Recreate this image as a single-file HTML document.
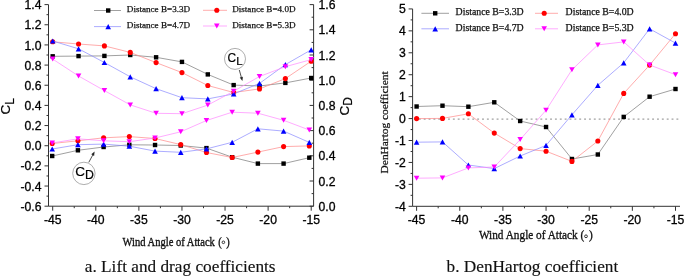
<!DOCTYPE html>
<html><head><meta charset="utf-8"><style>
html,body{margin:0;padding:0;background:#fff;}
body{width:685px;height:276px;overflow:hidden;position:relative;}
svg{position:absolute;left:0;top:0;will-change:transform;}
.sans{font-family:"Liberation Sans",sans-serif;font-size:12.2px;fill:#000;stroke:#000;stroke-width:0.3px;}
.serif{font-family:"Liberation Serif",serif;}
.wl{fill:#111;stroke:#111;stroke-width:0.3px;}
.sansT{font-family:"Liberation Sans",sans-serif;fill:#000;stroke:#000;stroke-width:0.2px;}
</style></head><body>
<svg width="685" height="276" viewBox="0 0 685 276">
<path d="M48.5 4.6V206.2H313.6V4.5" fill="none" stroke="#333" stroke-width="1"/>
<path d="M44.5 206.2H48.5 M46.5 196.12H48.5 M44.5 186.04H48.5 M46.5 175.96H48.5 M44.5 165.88H48.5 M46.5 155.8H48.5 M44.5 145.72H48.5 M46.5 135.64H48.5 M44.5 125.56H48.5 M46.5 115.48H48.5 M44.5 105.4H48.5 M46.5 95.32H48.5 M44.5 85.24H48.5 M46.5 75.16H48.5 M44.5 65.08H48.5 M46.5 55H48.5 M44.5 44.92H48.5 M46.5 34.84H48.5 M44.5 24.76H48.5 M46.5 14.68H48.5 M44.5 4.6H48.5 M309.6 206.2H313.6 M311.6 193.6H313.6 M309.6 181H313.6 M311.6 168.4H313.6 M309.6 155.8H313.6 M311.6 143.2H313.6 M309.6 130.61H313.6 M311.6 118.01H313.6 M309.6 105.41H313.6 M311.6 92.81H313.6 M309.6 80.21H313.6 M311.6 67.61H313.6 M309.6 55.01H313.6 M311.6 42.41H313.6 M309.6 29.81H313.6 M311.6 17.21H313.6 M309.6 4.62H313.6 M52.7 206.2V210.7 M74.24 206.2V208.2 M95.79 206.2V210.7 M117.33 206.2V208.2 M138.87 206.2V210.7 M160.41 206.2V208.2 M181.96 206.2V210.7 M203.5 206.2V208.2 M225.04 206.2V210.7 M246.58 206.2V208.2 M268.12 206.2V210.7 M289.67 206.2V208.2 M311.21 206.2V210.7" fill="none" stroke="#333" stroke-width="1"/>
<g class="sans"><text x="41.5" y="210.8" text-anchor="end">-0.6</text><text x="41.5" y="190.64" text-anchor="end">-0.4</text><text x="41.5" y="170.48" text-anchor="end">-0.2</text><text x="41.5" y="150.32" text-anchor="end">0.0</text><text x="41.5" y="130.16" text-anchor="end">0.2</text><text x="41.5" y="110" text-anchor="end">0.4</text><text x="41.5" y="89.84" text-anchor="end">0.6</text><text x="41.5" y="69.68" text-anchor="end">0.8</text><text x="41.5" y="49.52" text-anchor="end">1.0</text><text x="41.5" y="29.36" text-anchor="end">1.2</text><text x="41.5" y="9.2" text-anchor="end">1.4</text><text x="318.5" y="210.8">0.0</text><text x="318.5" y="185.6">0.2</text><text x="318.5" y="160.4">0.4</text><text x="318.5" y="135.21">0.6</text><text x="318.5" y="110.01">0.8</text><text x="318.5" y="84.81">1.0</text><text x="318.5" y="59.61">1.2</text><text x="318.5" y="34.41">1.4</text><text x="318.5" y="9.22">1.6</text><text x="52.7" y="223.6" text-anchor="middle">-45</text><text x="95.79" y="223.6" text-anchor="middle">-40</text><text x="138.87" y="223.6" text-anchor="middle">-35</text><text x="181.96" y="223.6" text-anchor="middle">-30</text><text x="225.04" y="223.6" text-anchor="middle">-25</text><text x="268.12" y="223.6" text-anchor="middle">-20</text><text x="311.21" y="223.6" text-anchor="middle">-15</text></g>
<polyline points="52.7,56.3 78.55,56.1 104.4,55.9 130.25,55 156.1,57.3 181.96,61.9 207.81,74.4 233.66,85.1 259.51,86 285.36,82.9 311.21,78" fill="none" stroke="#777" stroke-width="0.7"/><rect x="50.5" y="54.1" width="4.4" height="4.4" fill="#000"/><rect x="76.35" y="53.9" width="4.4" height="4.4" fill="#000"/><rect x="102.2" y="53.7" width="4.4" height="4.4" fill="#000"/><rect x="128.05" y="52.8" width="4.4" height="4.4" fill="#000"/><rect x="153.9" y="55.1" width="4.4" height="4.4" fill="#000"/><rect x="179.76" y="59.7" width="4.4" height="4.4" fill="#000"/><rect x="205.61" y="72.2" width="4.4" height="4.4" fill="#000"/><rect x="231.46" y="82.9" width="4.4" height="4.4" fill="#000"/><rect x="257.31" y="83.8" width="4.4" height="4.4" fill="#000"/><rect x="283.16" y="80.7" width="4.4" height="4.4" fill="#000"/><rect x="309.01" y="75.8" width="4.4" height="4.4" fill="#000"/>
<polyline points="52.7,41.8 78.55,44 104.4,45.9 130.25,52.4 156.1,62.6 181.96,72.6 207.81,85.5 233.66,92.5 259.51,88.9 285.36,78.6 311.21,61.2" fill="none" stroke="#f88" stroke-width="0.7"/><circle cx="52.7" cy="41.8" r="2.55" fill="#f00"/><circle cx="78.55" cy="44" r="2.55" fill="#f00"/><circle cx="104.4" cy="45.9" r="2.55" fill="#f00"/><circle cx="130.25" cy="52.4" r="2.55" fill="#f00"/><circle cx="156.1" cy="62.6" r="2.55" fill="#f00"/><circle cx="181.96" cy="72.6" r="2.55" fill="#f00"/><circle cx="207.81" cy="85.5" r="2.55" fill="#f00"/><circle cx="233.66" cy="92.5" r="2.55" fill="#f00"/><circle cx="259.51" cy="88.9" r="2.55" fill="#f00"/><circle cx="285.36" cy="78.6" r="2.55" fill="#f00"/><circle cx="311.21" cy="61.2" r="2.55" fill="#f00"/>
<polyline points="52.7,41 78.55,48.8 104.4,62.5 130.25,76.8 156.1,88.7 181.96,97.7 207.81,98.9 233.66,93.9 259.51,83.4 285.36,64.6 311.21,49.8" fill="none" stroke="#88f" stroke-width="0.7"/><path d="M52.7 38.4L55.5 43.6L49.9 43.6Z" fill="#00f"/><path d="M78.55 46.2L81.35 51.4L75.75 51.4Z" fill="#00f"/><path d="M104.4 59.9L107.2 65.1L101.6 65.1Z" fill="#00f"/><path d="M130.25 74.2L133.05 79.4L127.45 79.4Z" fill="#00f"/><path d="M156.1 86.1L158.9 91.3L153.3 91.3Z" fill="#00f"/><path d="M181.96 95.1L184.76 100.3L179.16 100.3Z" fill="#00f"/><path d="M207.81 96.3L210.61 101.5L205.01 101.5Z" fill="#00f"/><path d="M233.66 91.3L236.46 96.5L230.86 96.5Z" fill="#00f"/><path d="M259.51 80.8L262.31 86L256.71 86Z" fill="#00f"/><path d="M285.36 62L288.16 67.2L282.56 67.2Z" fill="#00f"/><path d="M311.21 47.2L314.01 52.4L308.41 52.4Z" fill="#00f"/>
<polyline points="52.7,59.1 78.55,76 104.4,90.6 130.25,104.9 156.1,113.3 181.96,113.7 207.81,105.1 233.66,91.2 259.51,76.5 285.36,66.7 311.21,59.6" fill="none" stroke="#f8f" stroke-width="0.7"/><path d="M49.9 56.6L55.5 56.6L52.7 61.6Z" fill="#f0f"/><path d="M75.75 73.5L81.35 73.5L78.55 78.5Z" fill="#f0f"/><path d="M101.6 88.1L107.2 88.1L104.4 93.1Z" fill="#f0f"/><path d="M127.45 102.4L133.05 102.4L130.25 107.4Z" fill="#f0f"/><path d="M153.3 110.8L158.9 110.8L156.1 115.8Z" fill="#f0f"/><path d="M179.16 111.2L184.76 111.2L181.96 116.2Z" fill="#f0f"/><path d="M205.01 102.6L210.61 102.6L207.81 107.6Z" fill="#f0f"/><path d="M230.86 88.7L236.46 88.7L233.66 93.7Z" fill="#f0f"/><path d="M256.71 74L262.31 74L259.51 79Z" fill="#f0f"/><path d="M282.56 64.2L288.16 64.2L285.36 69.2Z" fill="#f0f"/><path d="M308.41 57.1L314.01 57.1L311.21 62.1Z" fill="#f0f"/>
<polyline points="52.2,156 77.91,150.3 103.62,147 129.33,144.8 155.04,145 180.75,145.5 206.46,148.1 232.17,157.2 257.88,163.6 283.59,163.6 309.3,157.7" fill="none" stroke="#777" stroke-width="0.7"/><rect x="50" y="153.8" width="4.4" height="4.4" fill="#000"/><rect x="75.71" y="148.1" width="4.4" height="4.4" fill="#000"/><rect x="101.42" y="144.8" width="4.4" height="4.4" fill="#000"/><rect x="127.13" y="142.6" width="4.4" height="4.4" fill="#000"/><rect x="152.84" y="142.8" width="4.4" height="4.4" fill="#000"/><rect x="178.55" y="143.3" width="4.4" height="4.4" fill="#000"/><rect x="204.26" y="145.9" width="4.4" height="4.4" fill="#000"/><rect x="229.97" y="155" width="4.4" height="4.4" fill="#000"/><rect x="255.68" y="161.4" width="4.4" height="4.4" fill="#000"/><rect x="281.39" y="161.4" width="4.4" height="4.4" fill="#000"/><rect x="307.1" y="155.5" width="4.4" height="4.4" fill="#000"/>
<polyline points="52.2,143.5 77.91,140.8 103.62,137.8 129.33,136.6 155.04,138.5 180.75,144.6 206.46,152.5 232.17,157.5 257.88,152.1 283.59,146.6 309.3,145.9" fill="none" stroke="#f88" stroke-width="0.7"/><circle cx="52.2" cy="143.5" r="2.55" fill="#f00"/><circle cx="77.91" cy="140.8" r="2.55" fill="#f00"/><circle cx="103.62" cy="137.8" r="2.55" fill="#f00"/><circle cx="129.33" cy="136.6" r="2.55" fill="#f00"/><circle cx="155.04" cy="138.5" r="2.55" fill="#f00"/><circle cx="180.75" cy="144.6" r="2.55" fill="#f00"/><circle cx="206.46" cy="152.5" r="2.55" fill="#f00"/><circle cx="232.17" cy="157.5" r="2.55" fill="#f00"/><circle cx="257.88" cy="152.1" r="2.55" fill="#f00"/><circle cx="283.59" cy="146.6" r="2.55" fill="#f00"/><circle cx="309.3" cy="145.9" r="2.55" fill="#f00"/>
<polyline points="52.2,149 77.91,144.7 103.62,144.1 129.33,146.2 155.04,151.1 180.75,152.3 206.46,148.9 232.17,142.3 257.88,128.8 283.59,131.1 309.3,142.4" fill="none" stroke="#88f" stroke-width="0.7"/><path d="M52.2 146.4L55 151.6L49.4 151.6Z" fill="#00f"/><path d="M77.91 142.1L80.71 147.3L75.11 147.3Z" fill="#00f"/><path d="M103.62 141.5L106.42 146.7L100.82 146.7Z" fill="#00f"/><path d="M129.33 143.6L132.13 148.8L126.53 148.8Z" fill="#00f"/><path d="M155.04 148.5L157.84 153.7L152.24 153.7Z" fill="#00f"/><path d="M180.75 149.7L183.55 154.9L177.95 154.9Z" fill="#00f"/><path d="M206.46 146.3L209.26 151.5L203.66 151.5Z" fill="#00f"/><path d="M232.17 139.7L234.97 144.9L229.37 144.9Z" fill="#00f"/><path d="M257.88 126.2L260.68 131.4L255.08 131.4Z" fill="#00f"/><path d="M283.59 128.5L286.39 133.7L280.79 133.7Z" fill="#00f"/><path d="M309.3 139.8L312.1 145L306.5 145Z" fill="#00f"/>
<polyline points="52.2,143 77.91,138.8 103.62,140.8 129.33,141.7 155.04,138 180.75,131.8 206.46,120.5 232.17,112.2 257.88,113.2 283.59,120.3 309.3,130" fill="none" stroke="#f8f" stroke-width="0.7"/><path d="M49.4 140.5L55 140.5L52.2 145.5Z" fill="#f0f"/><path d="M75.11 136.3L80.71 136.3L77.91 141.3Z" fill="#f0f"/><path d="M100.82 138.3L106.42 138.3L103.62 143.3Z" fill="#f0f"/><path d="M126.53 139.2L132.13 139.2L129.33 144.2Z" fill="#f0f"/><path d="M152.24 135.5L157.84 135.5L155.04 140.5Z" fill="#f0f"/><path d="M177.95 129.3L183.55 129.3L180.75 134.3Z" fill="#f0f"/><path d="M203.66 118L209.26 118L206.46 123Z" fill="#f0f"/><path d="M229.37 109.7L234.97 109.7L232.17 114.7Z" fill="#f0f"/><path d="M255.08 110.7L260.68 110.7L257.88 115.7Z" fill="#f0f"/><path d="M280.79 117.8L286.39 117.8L283.59 122.8Z" fill="#f0f"/><path d="M306.5 127.5L312.1 127.5L309.3 132.5Z" fill="#f0f"/>
<path d="M412.6 8.9V206.3H680" fill="none" stroke="#333" stroke-width="1"/>
<path d="M408.6 206.3H412.6 M410.6 195.34H412.6 M408.6 184.37H412.6 M410.6 173.41H412.6 M408.6 162.44H412.6 M410.6 151.48H412.6 M408.6 140.51H412.6 M410.6 129.55H412.6 M408.6 118.58H412.6 M410.6 107.62H412.6 M408.6 96.65H412.6 M410.6 85.69H412.6 M408.6 74.72H412.6 M410.6 63.76H412.6 M408.6 52.79H412.6 M410.6 41.83H412.6 M408.6 30.86H412.6 M410.6 19.9H412.6 M408.6 8.93H412.6 M416.6 206.3V210.8 M438.18 206.3V208.3 M459.75 206.3V210.8 M481.33 206.3V208.3 M502.9 206.3V210.8 M524.48 206.3V208.3 M546.05 206.3V210.8 M567.62 206.3V208.3 M589.2 206.3V210.8 M610.78 206.3V208.3 M632.35 206.3V210.8 M653.93 206.3V208.3 M675.5 206.3V210.8" fill="none" stroke="#333" stroke-width="1"/>
<g class="sans"><text x="405.8" y="210.5" text-anchor="end">-4</text><text x="405.8" y="188.57" text-anchor="end">-3</text><text x="405.8" y="166.64" text-anchor="end">-2</text><text x="405.8" y="144.71" text-anchor="end">-1</text><text x="405.8" y="122.78" text-anchor="end">0</text><text x="405.8" y="100.85" text-anchor="end">1</text><text x="405.8" y="78.92" text-anchor="end">2</text><text x="405.8" y="56.99" text-anchor="end">3</text><text x="405.8" y="35.06" text-anchor="end">4</text><text x="405.8" y="13.13" text-anchor="end">5</text><text x="416.6" y="223.6" text-anchor="middle">-45</text><text x="459.75" y="223.6" text-anchor="middle">-40</text><text x="502.9" y="223.6" text-anchor="middle">-35</text><text x="546.05" y="223.6" text-anchor="middle">-30</text><text x="589.2" y="223.6" text-anchor="middle">-25</text><text x="632.35" y="223.6" text-anchor="middle">-20</text><text x="675.5" y="223.6" text-anchor="middle">-15</text></g>
<path d="M414.0 119.1H680" stroke="#888" stroke-width="1" stroke-dasharray="1.9 2.96"/>
<polyline points="416.6,106.5 442.49,105.7 468.38,106.7 494.27,102.3 520.16,121 546.05,127 571.94,159 597.83,154.5 623.72,116.9 649.61,96.7 675.5,89" fill="none" stroke="#777" stroke-width="0.7"/><rect x="414.4" y="104.3" width="4.4" height="4.4" fill="#000"/><rect x="440.29" y="103.5" width="4.4" height="4.4" fill="#000"/><rect x="466.18" y="104.5" width="4.4" height="4.4" fill="#000"/><rect x="492.07" y="100.1" width="4.4" height="4.4" fill="#000"/><rect x="517.96" y="118.8" width="4.4" height="4.4" fill="#000"/><rect x="543.85" y="124.8" width="4.4" height="4.4" fill="#000"/><rect x="569.74" y="156.8" width="4.4" height="4.4" fill="#000"/><rect x="595.63" y="152.3" width="4.4" height="4.4" fill="#000"/><rect x="621.52" y="114.7" width="4.4" height="4.4" fill="#000"/><rect x="647.41" y="94.5" width="4.4" height="4.4" fill="#000"/><rect x="673.3" y="86.8" width="4.4" height="4.4" fill="#000"/>
<polyline points="416.6,118.6 442.49,118.4 468.38,113.8 494.27,133.1 520.16,148.6 546.05,151.2 571.94,161.4 597.83,141 623.72,93.4 649.61,65.1 675.5,33.7" fill="none" stroke="#f88" stroke-width="0.7"/><circle cx="416.6" cy="118.6" r="2.55" fill="#f00"/><circle cx="442.49" cy="118.4" r="2.55" fill="#f00"/><circle cx="468.38" cy="113.8" r="2.55" fill="#f00"/><circle cx="494.27" cy="133.1" r="2.55" fill="#f00"/><circle cx="520.16" cy="148.6" r="2.55" fill="#f00"/><circle cx="546.05" cy="151.2" r="2.55" fill="#f00"/><circle cx="571.94" cy="161.4" r="2.55" fill="#f00"/><circle cx="597.83" cy="141" r="2.55" fill="#f00"/><circle cx="623.72" cy="93.4" r="2.55" fill="#f00"/><circle cx="649.61" cy="65.1" r="2.55" fill="#f00"/><circle cx="675.5" cy="33.7" r="2.55" fill="#f00"/>
<polyline points="416.6,142.2 442.49,141.9 468.38,165 494.27,168.6 520.16,156 546.05,145.4 571.94,114.8 597.83,85.3 623.72,62.8 649.61,28.8 675.5,43.1" fill="none" stroke="#88f" stroke-width="0.7"/><path d="M416.6 139.6L419.4 144.8L413.8 144.8Z" fill="#00f"/><path d="M442.49 139.3L445.29 144.5L439.69 144.5Z" fill="#00f"/><path d="M468.38 162.4L471.18 167.6L465.58 167.6Z" fill="#00f"/><path d="M494.27 166L497.07 171.2L491.47 171.2Z" fill="#00f"/><path d="M520.16 153.4L522.96 158.6L517.36 158.6Z" fill="#00f"/><path d="M546.05 142.8L548.85 148L543.25 148Z" fill="#00f"/><path d="M571.94 112.2L574.74 117.4L569.14 117.4Z" fill="#00f"/><path d="M597.83 82.7L600.63 87.9L595.03 87.9Z" fill="#00f"/><path d="M623.72 60.2L626.52 65.4L620.92 65.4Z" fill="#00f"/><path d="M649.61 26.2L652.41 31.4L646.81 31.4Z" fill="#00f"/><path d="M675.5 40.5L678.3 45.7L672.7 45.7Z" fill="#00f"/>
<polyline points="416.6,178.2 442.49,177.9 468.38,167.9 494.27,167 520.16,139.6 546.05,110.2 571.94,69.8 597.83,44.9 623.72,41.9 649.61,65 675.5,74.7" fill="none" stroke="#f8f" stroke-width="0.7"/><path d="M413.8 175.7L419.4 175.7L416.6 180.7Z" fill="#f0f"/><path d="M439.69 175.4L445.29 175.4L442.49 180.4Z" fill="#f0f"/><path d="M465.58 165.4L471.18 165.4L468.38 170.4Z" fill="#f0f"/><path d="M491.47 164.5L497.07 164.5L494.27 169.5Z" fill="#f0f"/><path d="M517.36 137.1L522.96 137.1L520.16 142.1Z" fill="#f0f"/><path d="M543.25 107.7L548.85 107.7L546.05 112.7Z" fill="#f0f"/><path d="M569.14 67.3L574.74 67.3L571.94 72.3Z" fill="#f0f"/><path d="M595.03 42.4L600.63 42.4L597.83 47.4Z" fill="#f0f"/><path d="M620.92 39.4L626.52 39.4L623.72 44.4Z" fill="#f0f"/><path d="M646.81 62.5L652.41 62.5L649.61 67.5Z" fill="#f0f"/><path d="M672.7 72.2L678.3 72.2L675.5 77.2Z" fill="#f0f"/>
<path d="M94 10.5H121" stroke="#777" stroke-width="0.7"/><rect x="106" y="8.3" width="4.4" height="4.4" fill="#000"/><text x="126.8" y="12.3" class="serif" style="font-size:9.12px;fill:#111;stroke:#111;stroke-width:0.25px">Distance B=3.3D</text><path d="M94 26.6H121" stroke="#88f" stroke-width="0.7"/><path d="M108.2 24L111 29.2L105.4 29.2Z" fill="#00f"/><text x="126.8" y="27.9" class="serif" style="font-size:9.12px;fill:#111;stroke:#111;stroke-width:0.25px">Distance B=4.7D</text>
<path d="M203 10.3H227" stroke="#f88" stroke-width="0.7"/><circle cx="216.8" cy="10.3" r="2.55" fill="#f00"/><text x="232.2" y="12.3" class="serif" style="font-size:9.12px;fill:#111;stroke:#111;stroke-width:0.25px">Distance B=4.0D</text><path d="M203 26.0H227" stroke="#f8f" stroke-width="0.7"/><path d="M214 23.5L219.6 23.5L216.8 28.5Z" fill="#f0f"/><text x="232.2" y="27.9" class="serif" style="font-size:9.12px;fill:#111;stroke:#111;stroke-width:0.25px">Distance B=5.3D</text>
<path d="M421.4 13.3H449" stroke="#777" stroke-width="0.7"/><rect x="433" y="11.1" width="4.4" height="4.4" fill="#000"/><text x="455.6" y="14.8" class="serif" style="font-size:9.8px;fill:#111;stroke:#111;stroke-width:0.25px">Distance B=3.3D</text><path d="M421.4 28.8H449" stroke="#88f" stroke-width="0.7"/><path d="M435.2 26.2L438 31.4L432.4 31.4Z" fill="#00f"/><text x="455.6" y="30.6" class="serif" style="font-size:9.8px;fill:#111;stroke:#111;stroke-width:0.25px">Distance B=4.7D</text>
<path d="M535 13.3H558" stroke="#f88" stroke-width="0.7"/><circle cx="544.2" cy="13.3" r="2.55" fill="#f00"/><text x="565.6" y="14.8" class="serif" style="font-size:9.8px;fill:#111;stroke:#111;stroke-width:0.25px">Distance B=4.0D</text><path d="M535 28.8H558" stroke="#f8f" stroke-width="0.7"/><path d="M541.4 26.3L547 26.3L544.2 31.3Z" fill="#f0f"/><text x="565.6" y="30.6" class="serif" style="font-size:9.8px;fill:#111;stroke:#111;stroke-width:0.25px">Distance B=5.3D</text>
<text class="sansT" transform="translate(10.3 114.6) rotate(-90)" style="font-size:13.5px">C<tspan dy="4.0" style="font-size:12px">L</tspan></text>
<text class="sansT" transform="translate(349.3 115.6) rotate(-90)" style="font-size:13.5px">C<tspan dy="3.0" style="font-size:12px">D</tspan></text>
<text class="serif" transform="translate(388.1 173.4) rotate(-90)" style="font-size:11.4px;fill:#111;stroke:#111;stroke-width:0.25px">DenHartog coefficient</text>
<g transform="translate(0 245.85) scale(1 1.15)"><text class="serif wl" x="122.5" y="0" style="font-size:10.55px">Wind Angle of Attack</text><text class="serif wl" x="218.3" y="0" style="font-size:10.55px">(</text><text class="serif wl" x="226.2" y="0" style="font-size:10.3px">)</text></g>
<circle cx="223.4" cy="242.3" r="1.3" fill="none" stroke="#222" stroke-width="0.9"/>
<g transform="translate(0 239.45) scale(1 1.1)"><text class="serif wl" x="478.9" y="0" style="font-size:11.3px">Wind Angle of Attack</text><text class="serif wl" x="580.5" y="0" style="font-size:11.3px">(</text><text class="serif wl" x="589.0" y="0" style="font-size:11.3px">)</text></g>
<circle cx="586" cy="236.3" r="1.4" fill="none" stroke="#222" stroke-width="0.9"/>
<circle cx="235.0" cy="58.9" r="10.5" fill="#fff" stroke="#999" stroke-width="0.8"/><text class="sansT" x="227.5" y="61.8" style="font-size:11.9px">C<tspan dx="0.1" dy="3.4" style="font-size:11.5px">L</tspan></text><path d="M239.3 70L241.31 77.15" stroke="#222" stroke-width="0.8"/><path d="M242.4 81L239.77 77.58L242.86 76.72Z" fill="#222"/>
<circle cx="83.9" cy="173.4" r="11.2" fill="#fff" stroke="#999" stroke-width="0.8"/><text class="sansT" x="75.2" y="176.0" style="font-size:13.5px">C<tspan dx="0" dy="3.4" style="font-size:12.3px">D</tspan></text><path d="M88.8 162.3L92.69 155.12" stroke="#222" stroke-width="0.8"/><path d="M94.6 151.6L94.1 155.88L91.29 154.35Z" fill="#222"/>
<text class="serif" x="84.8" y="272.3" style="font-size:17.25px;fill:#111;stroke:#111;stroke-width:0.15px">a. Lift and drag coefficients</text>
<text class="serif" x="446.6" y="272.3" style="font-size:17.25px;fill:#111;stroke:#111;stroke-width:0.15px">b. DenHartog coefficient</text>
</svg>
</body></html>
